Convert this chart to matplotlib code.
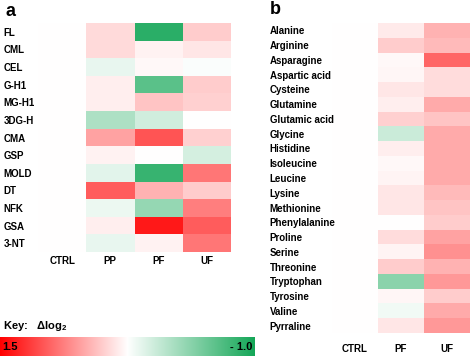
import numpy as np
import matplotlib
matplotlib.use("Agg")
import matplotlib.pyplot as plt
from matplotlib.colors import LinearSegmentedColormap, TwoSlopeNorm

plt.rcParams['font.family'] = ['Liberation Sans', 'DejaVu Sans']
plt.rcParams['mathtext.fontset'] = 'custom'
plt.rcParams['mathtext.rm'] = 'Liberation Sans'
plt.rcParams['mathtext.bf'] = 'Liberation Sans:bold'

# panel a: glycation / oxidation markers (delta log2 vs CTRL)
rows_a = ['FL', 'CML', 'CEL', 'G-H1', 'MG-H1', '3DG-H', 'CMA', 'GSP',
          'MOLD', 'DT', 'NFK', 'GSA', '3-NT']
cols_a = ['CTRL', 'PP', 'PF', 'UF']
ctrl_a = [0.0] * 13
pp = [0.22, 0.22, -0.10, 0.10, 0.10, -0.35, 0.55, 0.08, -0.12, 0.95, -0.08, 0.10, -0.10]
pf = [-0.90, 0.08, 0.04, -0.70, 0.35, -0.20, 1.00, 0.00, -0.85, 0.45, -0.45, 1.35, 0.08]
uf = [0.30, 0.15, -0.02, 0.30, 0.28, 0.00, 0.28, -0.18, 0.80, 0.30, 0.75, 0.95, 0.80]

# panel b: amino acids
rows_b = ['Alanine', 'Arginine', 'Asparagine', 'Aspartic acid', 'Cysteine',
          'Glutamine', 'Glutamic acid', 'Glycine', 'Histidine', 'Isoleucine',
          'Leucine', 'Lysine', 'Methionine', 'Phenylalanine', 'Proline',
          'Serine', 'Threonine', 'Tryptophan', 'Tyrosine', 'Valine', 'Pyrraline']
cols_b = ['CTRL', 'PF', 'UF']
ctrl_b = [0.0] * 21
pf_b = [0.12, 0.30, 0.04, 0.05, 0.15, 0.10, 0.28, -0.22, 0.10, 0.04,
        0.07, 0.15, 0.15, 0.00, 0.20, 0.06, 0.30, -0.50, 0.05, -0.06, 0.15]
uf_b = [0.45, 0.40, 0.90, 0.20, 0.20, 0.50, 0.35, 0.50, 0.50, 0.50,
        0.50, 0.40, 0.35, 0.30, 0.55, 0.65, 0.45, 0.60, 0.30, 0.50, 0.60]

cmap = LinearSegmentedColormap.from_list('gwr', ['#14A657', '#FFFFFF', '#FF0000'])
norm = TwoSlopeNorm(vmin=-1.0, vcenter=0.0, vmax=1.5)

fig = plt.figure(figsize=(4.72, 3.56), dpi=100)
W, H = 472, 356


def heat(ax, mat, rows, cols, lab_pad, col_pad):
    ax.pcolormesh(mat, cmap=cmap, norm=norm)
    ax.set_xlim(0, mat.shape[1])
    ax.set_ylim(mat.shape[0], 0)
    ax.set_xticks(np.arange(len(cols)) + 0.5)
    ax.set_xticklabels(cols, fontsize=7, fontweight='bold')
    ax.set_yticks(np.arange(len(rows)) + 0.5)
    ax.set_yticklabels(rows, fontsize=7, fontweight='bold', ha='left')
    ax.tick_params(axis='y', length=0, pad=lab_pad)
    ax.tick_params(axis='x', length=0, pad=col_pad)
    for s in ax.spines.values():
        s.set_visible(False)


ax_a = fig.add_axes([38 / W, 1 - 252 / H, (231 - 38) / W, (252 - 23) / H])
heat(ax_a, np.array([ctrl_a, pp, pf, uf]).T, rows_a, cols_a, 25, 3)

ax_b = fig.add_axes([332 / W, 1 - 333 / H, (470 - 332) / W, (333 - 23) / H])
heat(ax_b, np.array([ctrl_b, pf_b, uf_b]).T, rows_b, cols_b, 45, 8)

fig.text(5 / W, 1 - 11 / H, 'a', fontsize=13, fontweight='bold', va='center')
fig.text(270 / W, 1 - 10 / H, 'b', fontsize=13, fontweight='bold', va='center')

# colour key
cax = fig.add_axes([0, 0, 255 / W, 19 / H])
cb = fig.colorbar(plt.cm.ScalarMappable(norm=norm, cmap=cmap), cax=cax,
                  orientation='horizontal')
cax.invert_xaxis()
cb.set_ticks([])
cb.outline.set_visible(False)
cax.text(0.01, 0.5, '1.5', transform=cax.transAxes, fontsize=8,
         fontweight='bold', va='center', ha='left')
cax.text(0.99, 0.5, '- 1.0', transform=cax.transAxes, fontsize=8,
         fontweight='bold', va='center', ha='right')
fig.text(3 / W, 1 - 326 / H, r'Key:   $\mathbf{\Delta log_2}$', fontsize=8,
         fontweight='bold', va='center')

fig.savefig('out.png', dpi=100)
